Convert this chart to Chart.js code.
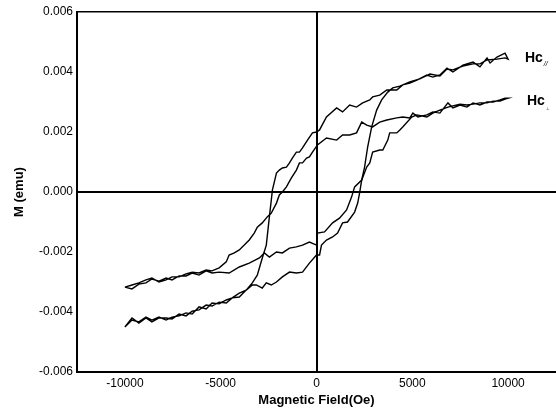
<!DOCTYPE html>
<html>
<head>
<meta charset="utf-8">
<script src="https://cdn.jsdelivr.net/npm/chart.js@4/dist/chart.umd.min.js"></script>
<style>
  html, body { margin: 0; padding: 0; background: #fff; }
  #wrap { width: 556px; height: 412px; }
</style>
</head>
<body>
<div id="wrap"><canvas id="chart" width="556" height="412"></canvas></div>
<script>
// tick values
const xTicks = [-10000, -5000, 0, 5000, 10000];
const yTicks = [-0.006, -0.004, -0.002, 0, 0.002, 0.004, 0.006];

// Hc// loop, ascending branch (field going up)
const parUpH = [-10000,-9630,-9270,-8900,-8590,-8220,-7850,-7540,-7170,-6810,-6490,-6130,-5760,-5450,-5080,-4710,-4400,-4030,-3670,-3350,-3140,-2830,-2620,-2360,-2090,-1780,-1410,-1050,-730,-370,0,160,260,520,840,1100,1360,1620,1990,2150,2250,2360,2510,2670,2880,3140,3400,3720,3980,4350,4870,5390,5920,6440,6810,7120,7640,8170,8530,8900,9420,9840,10000];
const parUpM = [-0.00450,-0.00420,-0.00437,-0.00420,-0.00433,-0.00420,-0.00420,-0.00423,-0.00407,-0.00413,-0.00397,-0.00393,-0.00377,-0.00380,-0.00367,-0.00370,-0.00353,-0.00350,-0.00327,-0.00310,-0.00310,-0.00320,-0.00303,-0.00310,-0.00300,-0.00283,-0.00267,-0.00270,-0.00267,-0.00237,-0.00210,-0.00210,-0.00177,-0.00160,-0.00150,-0.00137,-0.00103,-0.00100,-0.00067,-0.00037,-0.00003,0.00040,0.00083,0.00150,0.00217,0.00273,0.00307,0.00333,0.00347,0.00353,0.00367,0.00377,0.00393,0.00387,0.00410,0.00407,0.00420,0.00427,0.00427,0.00440,0.00443,0.00447,0.00443];
// Hc// loop, descending branch (listed low field -> high field)
const parDownH = [-10000,-9630,-9270,-8900,-8590,-8220,-7850,-7540,-7170,-6810,-6490,-6130,-5760,-5450,-5080,-4710,-4400,-4030,-3670,-3350,-3090,-2830,-2620,-2460,-2360,-2300,-2090,-1940,-1780,-1570,-1410,-1260,-1050,-890,-730,-470,-210,0,160,520,1050,1360,1730,2090,2410,2780,2930,3300,3670,4190,4500,4870,5240,5760,6070,6440,6810,7120,7640,8170,8530,8900,9060,9420,9840,10000];
const parDownM = [-0.00450,-0.00427,-0.00433,-0.00417,-0.00427,-0.00417,-0.00427,-0.00417,-0.00413,-0.00403,-0.00407,-0.00383,-0.00390,-0.00370,-0.00373,-0.00360,-0.00353,-0.00337,-0.00327,-0.00303,-0.00277,-0.00220,-0.00177,-0.00083,-0.00027,0.00007,0.00063,0.00073,0.00080,0.00083,0.00097,0.00113,0.00133,0.00133,0.00147,0.00173,0.00197,0.00200,0.00207,0.00250,0.00280,0.00267,0.00290,0.00283,0.00297,0.00307,0.00317,0.00323,0.00340,0.00340,0.00357,0.00363,0.00373,0.00390,0.00383,0.00390,0.00413,0.00400,0.00423,0.00433,0.00417,0.00447,0.00430,0.00450,0.00463,0.00443];

// Hc(perp) loop
const perpUpH = [-10000,-9630,-9270,-8900,-8590,-8220,-7850,-7540,-7170,-6810,-6490,-6130,-5760,-5450,-5080,-4560,-4030,-3510,-2980,-2720,-2460,-2090,-1780,-1410,-1050,-730,-370,0,50,420,840,1200,1570,1830,1990,2360,2620,2780,2930,3300,3460,3720,3820,4190,4350,4500,4970,5240,5760,6070,6440,6860,7120,7490,7850,8170,8530,8900,9220,9580,9840,10000];
const perpUpM = [-0.00317,-0.00323,-0.00307,-0.00303,-0.00290,-0.00297,-0.00287,-0.00293,-0.00280,-0.00280,-0.00270,-0.00277,-0.00263,-0.00270,-0.00267,-0.00270,-0.00250,-0.00237,-0.00220,-0.00203,-0.00217,-0.00200,-0.00203,-0.00187,-0.00183,-0.00177,-0.00167,-0.00177,-0.00137,-0.00133,-0.00103,-0.00087,-0.00060,-0.00017,0.00017,0.00040,0.00083,0.00097,0.00133,0.00140,0.00140,0.00173,0.00197,0.00197,0.00207,0.00217,0.00250,0.00257,0.00250,0.00263,0.00273,0.00283,0.00287,0.00293,0.00290,0.00293,0.00297,0.00297,0.00303,0.00303,0.00310,0.00313];
const perpDownH = [-10000,-9630,-9270,-8900,-8590,-8220,-7850,-7540,-7170,-6810,-6490,-6130,-5760,-5450,-5080,-4710,-4560,-4290,-4030,-3770,-3510,-3250,-3090,-2830,-2570,-2360,-2090,-1940,-1780,-1570,-1310,-1050,-890,-730,-520,-370,-210,50,520,1050,1360,1730,2090,2360,2620,2930,3300,3670,4190,4500,4870,5030,5290,5760,6070,6440,6860,7120,7490,7850,8170,8530,8900,9220,9580,9840,10000];
const perpDownM = [-0.00317,-0.00310,-0.00303,-0.00293,-0.00287,-0.00300,-0.00293,-0.00283,-0.00283,-0.00273,-0.00267,-0.00270,-0.00260,-0.00263,-0.00253,-0.00233,-0.00210,-0.00203,-0.00193,-0.00177,-0.00160,-0.00137,-0.00117,-0.00103,-0.00083,-0.00070,-0.00037,-0.00010,0,0.00017,0.00047,0.00073,0.00097,0.00097,0.00113,0.00117,0.00133,0.00157,0.00180,0.00173,0.00190,0.00190,0.00197,0.00233,0.00223,0.00217,0.00233,0.00240,0.00247,0.00250,0.00247,0.00263,0.00250,0.00257,0.00267,0.00263,0.00297,0.00280,0.00290,0.00283,0.00297,0.00290,0.00300,0.00300,0.00307,0.00313,0.00313];

// curve labels (placed in data units, right of the loops)
const labelMain = ['Hc', 'Hc'];
const labelSub = ['//', '\u22a5'];
const labelH = [10880, 10980];
const labelM = [0.00447, 0.00303];

function toPts(h, m) {
    return h.map((v, i) => ({x: v, y: m[i]}));
}
// closed loop: up branch then the down branch walked back
function loopPts(upH, upM, downH, downM) {
    return toPts(upH, upM).concat(toPts(downH, downM).reverse());
}

const isZero = v => Math.abs(v) < 1e-9;

const curveLabels = {
    id: 'curveLabels',
    afterDatasetsDraw(chart) {
        const {ctx, scales: {x, y}} = chart;
        ctx.save();
        ctx.fillStyle = '#000';
        ctx.textBaseline = 'middle';
        for (let i = 0; i < labelMain.length; i++) {
            const px = x.getPixelForValue(labelH[i]);
            const py = y.getPixelForValue(labelM[i]);
            ctx.font = 'bold 14px "Liberation Sans", Arial, sans-serif';
            ctx.fillText(labelMain[i], px, py);
            const w = ctx.measureText(labelMain[i]).width;
            ctx.font = (i === 0 ? 'italic 7px' : '4px') + ' "Liberation Sans", Arial, sans-serif';
            ctx.fillText(labelSub[i], px + w + 1, py + (i === 0 ? 6 : 8));
        }
        ctx.restore();
    }
};

Chart.defaults.font.family = '"Liberation Sans", Arial, sans-serif';
Chart.defaults.color = '#000';

const lineStyle = {
    showLine: true,
    borderColor: '#000',
    backgroundColor: '#000',
    borderWidth: 1.4,
    pointRadius: 0,
    pointHoverRadius: 0,
    tension: 0
};

const data = {
    datasets: [{
        label: 'Hc//',
        data: loopPts(parUpH, parUpM, parDownH, parDownM),
        ...lineStyle
    }, {
        label: 'Hc\u22a5',
        data: loopPts(perpUpH, perpUpM, perpDownH, perpDownM),
        ...lineStyle
    }]
};

const config = {
    type: 'scatter',
    data,
    options: {
        responsive: false,
        animation: false,
        devicePixelRatio: 1,
        layout: {
            padding: {top: 12, right: 0, bottom: 0, left: 0}
        },
        scales: {
            x: {
                type: 'linear',
                min: -12500,
                max: 12500,
                afterBuildTicks: s => { s.ticks = xTicks.map(v => ({value: v})); },
                afterFit: s => { s.height = 40; },
                ticks: {
                    padding: 4,
                    font: {size: 12},
                    maxRotation: 0,
                    callback: v => String(v)
                },
                grid: {
                    drawTicks: false,
                    color: c => isZero(c.tick.value) ? '#000' : 'rgba(0,0,0,0)',
                    lineWidth: 2
                },
                border: {display: true, color: '#000', width: 2},
                title: {
                    display: true,
                    text: 'Magnetic Field(Oe)',
                    font: {size: 13, weight: 'bold'},
                    padding: {top: 0, bottom: 4}
                }
            },
            y: {
                min: -0.006,
                max: 0.006,
                afterBuildTicks: s => { s.ticks = yTicks.map(v => ({value: v})); },
                afterFit: s => { s.width = 77; },
                ticks: {
                    padding: 4,
                    font: {size: 12},
                    callback: v => isZero(v) ? '0.000' : v.toFixed(3)
                },
                grid: {
                    drawTicks: false,
                    color: c => (isZero(c.tick.value) || c.tick.value > 0.0059) ? '#000' : 'rgba(0,0,0,0)',
                    lineWidth: c => c.tick.value > 0.0059 ? 1.5 : 2
                },
                border: {display: true, color: '#000', width: 2},
                title: {
                    display: true,
                    text: 'M (emu)',
                    font: {size: 13, weight: 'bold'},
                    padding: {top: 12, bottom: 0}
                }
            }
        },
        plugins: {
            legend: {display: false},
            tooltip: {enabled: false}
        }
    },
    plugins: [curveLabels]
};

var chart = document.getElementById('chart');
var myChart = new Chart(chart, config);
</script>
</body>
</html>
